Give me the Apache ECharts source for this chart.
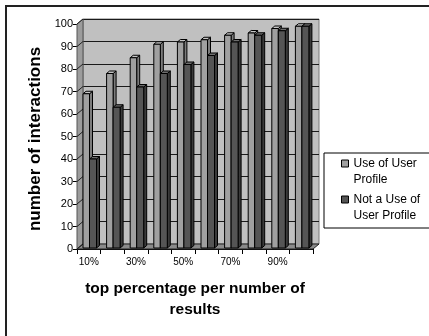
<!DOCTYPE html>
<html>
<head>
<meta charset="utf-8">
<script src="https://cdn.jsdelivr.net/npm/echarts@6/dist/echarts.min.js"></script>
<style>
  html, body { margin: 0; padding: 0; background: #fff; }
  #chart { width: 429px; height: 336px; }
</style>
</head>
<body>
<div id="chart"></div>
<script>
// Share of interactions per top-percentage bucket
const categories = ['10%', '20%', '30%', '40%', '50%', '60%', '70%', '80%', '90%', '100%'];
const withProfile = [69, 78, 85, 91, 92, 93, 95, 96, 98, 99];
const withoutProfile = [40, 63, 72, 78, 82, 86, 92, 95, 97, 99];
const yTicks = [0, 10, 20, 30, 40, 50, 60, 70, 80, 90, 100];
const seriesNames = ['Use of User Profile', 'Not a Use of User Profile'];
const legendLabels = ['Use of User\nProfile', 'Not a Use of\nUser Profile'];

const FONT = '"Liberation Sans", Arial, sans-serif';
// depth of the pseudo-3D box (back wall offset from the front plane)
const DX = 6, DY = 5;
// bar depth
const BX = 3, BY = 2.5;

const chart = echarts.init(document.getElementById('chart'), null, { renderer: 'canvas' });

// left wall, floor and the short depth lines at each value tick
function renderWalls(params, api) {
  const band = api.size([1, 0])[0];
  const first = api.coord([0, 0]);
  const last = api.coord([categories.length - 1, 0]);
  const xL = first[0] - band / 2;
  const xR = last[0] + band / 2;
  const y0 = first[1];
  const yT = api.coord([0, yTicks[yTicks.length - 1]])[1];
  const children = [
    {
      type: 'polygon',
      shape: { points: [[xL, y0], [xL, yT], [xL + DX, yT - DY], [xL + DX, y0 - DY]] },
      style: { fill: '#9c9c9c', stroke: '#555', lineWidth: 1 }
    },
    {
      type: 'polygon',
      shape: { points: [[xL, y0], [xR, y0], [xR + DX, y0 - DY], [xL + DX, y0 - DY]] },
      style: { fill: '#8a8a8a', stroke: '#222', lineWidth: 1 }
    }
  ];
  yTicks.forEach(function (t) {
    const y = api.coord([0, t])[1];
    children.push({
      type: 'line',
      shape: { x1: xL, y1: y, x2: xL + DX, y2: y - DY },
      style: { stroke: '#222', lineWidth: 1 }
    });
  });
  return { type: 'group', children: children };
}

// one 3D column: front face, right side face, top face
function columnRenderer(offset, width, colors) {
  return function (params, api) {
    const idx = api.value(0);
    const val = api.value(1);
    const band = api.size([1, 0])[0];
    const top = api.coord([idx, val]);
    const base = api.coord([idx, 0])[1] - 1;
    const x0 = top[0] - band / 2 + offset;
    const x1 = x0 + width;
    const yt = top[1];
    const line = { stroke: '#000', lineWidth: 1 };
    return {
      type: 'group',
      children: [
        {
          type: 'polygon',
          shape: { points: [[x1, base], [x1 + BX, base - BY], [x1 + BX, yt - BY], [x1, yt]] },
          style: Object.assign({ fill: colors[1] }, line)
        },
        {
          type: 'polygon',
          shape: { points: [[x0, yt], [x0 + BX, yt - BY], [x1 + BX, yt - BY], [x1, yt]] },
          style: Object.assign({ fill: colors[2] }, line)
        },
        {
          type: 'rect',
          shape: { x: x0, y: yt, width: width, height: base - yt },
          style: Object.assign({ fill: colors[0] }, line)
        }
      ]
    };
  };
}

const option = {
  backgroundColor: '#fff',
  animation: false,
  textStyle: { fontFamily: FONT },
  graphic: [
    {
      type: 'rect',
      shape: { x: 6, y: 6, width: 440, height: 340 },
      style: { fill: 'none', stroke: '#222', lineWidth: 2 },
      silent: true,
      z: 100
    }
  ],
  legend: {
    orient: 'vertical',
    left: 324,
    top: 153,
    padding: [3, 12, 4, 17],
    itemGap: 4,
    itemWidth: 7,
    itemHeight: 24,
    icon: 'path://M0,0h7v7h-7z M0,24',
    backgroundColor: '#fff',
    borderColor: '#000',
    borderWidth: 1,
    borderRadius: 0,
    data: seriesNames,
    itemStyle: { borderColor: '#000', borderWidth: 1 },
    textStyle: { fontFamily: FONT, fontSize: 12, color: '#000', lineHeight: 16 },
    formatter: function (name) {
      return legendLabels[seriesNames.indexOf(name)];
    }
  },
  grid: [
    { left: 77, top: 24, width: 236, height: 225 },
    {
      left: 77 + DX, top: 24 - DY, width: 236, height: 225,
      show: true, backgroundColor: '#c0c0c0', borderColor: '#7a7a7a', borderWidth: 1
    }
  ],
  xAxis: [
    {
      gridIndex: 0,
      type: 'category',
      data: categories,
      boundaryGap: true,
      axisLine: { lineStyle: { color: '#000', width: 1 } },
      axisTick: { show: true, length: 5, interval: 0, alignWithLabel: false, lineStyle: { color: '#000' } },
      axisLabel: { interval: 1, fontSize: 10, color: '#000', margin: 8, fontFamily: FONT },
      name: 'top percentage per number of\nresults',
      nameLocation: 'middle',
      nameGap: 29,
      nameTextStyle: { fontSize: 15.5, fontWeight: 'bold', color: '#000', lineHeight: 21, fontFamily: FONT }
    },
    {
      gridIndex: 1,
      type: 'category',
      data: categories,
      show: false
    }
  ],
  yAxis: [
    {
      gridIndex: 0,
      type: 'value',
      min: 0,
      max: 100,
      interval: 10,
      axisLine: { show: true, lineStyle: { color: '#000', width: 1 } },
      axisTick: { show: true, length: 4, lineStyle: { color: '#000' } },
      axisLabel: { fontSize: 11, color: '#000', margin: 4, fontFamily: FONT },
      splitLine: { show: false },
      name: 'number of interactions',
      nameLocation: 'middle',
      nameRotate: 90,
      nameGap: 24,
      nameTextStyle: { fontSize: 17, fontWeight: 'bold', color: '#000', fontFamily: FONT, padding: [0, 5, 0, 0] }
    },
    {
      gridIndex: 1,
      type: 'value',
      min: 0,
      max: 100,
      interval: 10,
      axisLine: { show: false },
      axisTick: { show: false },
      axisLabel: { show: false },
      splitLine: { show: true, lineStyle: { color: '#1a1a1a', width: 1 } }
    }
  ],
  series: [
    {
      type: 'custom',
      name: 'walls',
      xAxisIndex: 0,
      yAxisIndex: 0,
      z: 1,
      silent: true,
      renderItem: renderWalls,
      data: [[0, 0]],
      encode: { x: 0, y: 1 }
    },
    {
      type: 'custom',
      name: seriesNames[0],
      xAxisIndex: 0,
      yAxisIndex: 0,
      z: 3,
      itemStyle: { color: '#a0a0a0' },
      renderItem: columnRenderer(6, 6.5, ['#a0a0a0', '#7c7c7c', '#c4c4c4']),
      data: withProfile.map(function (v, i) { return [i, v]; }),
      encode: { x: 0, y: 1 }
    },
    {
      type: 'custom',
      name: seriesNames[1],
      xAxisIndex: 0,
      yAxisIndex: 0,
      z: 4,
      itemStyle: { color: '#555555' },
      renderItem: columnRenderer(12.5, 7, ['#555555', '#3a3a3a', '#6e6e6e']),
      data: withoutProfile.map(function (v, i) { return [i, v]; }),
      encode: { x: 0, y: 1 }
    }
  ]
};

chart.setOption(option);
</script>
</body>
</html>
